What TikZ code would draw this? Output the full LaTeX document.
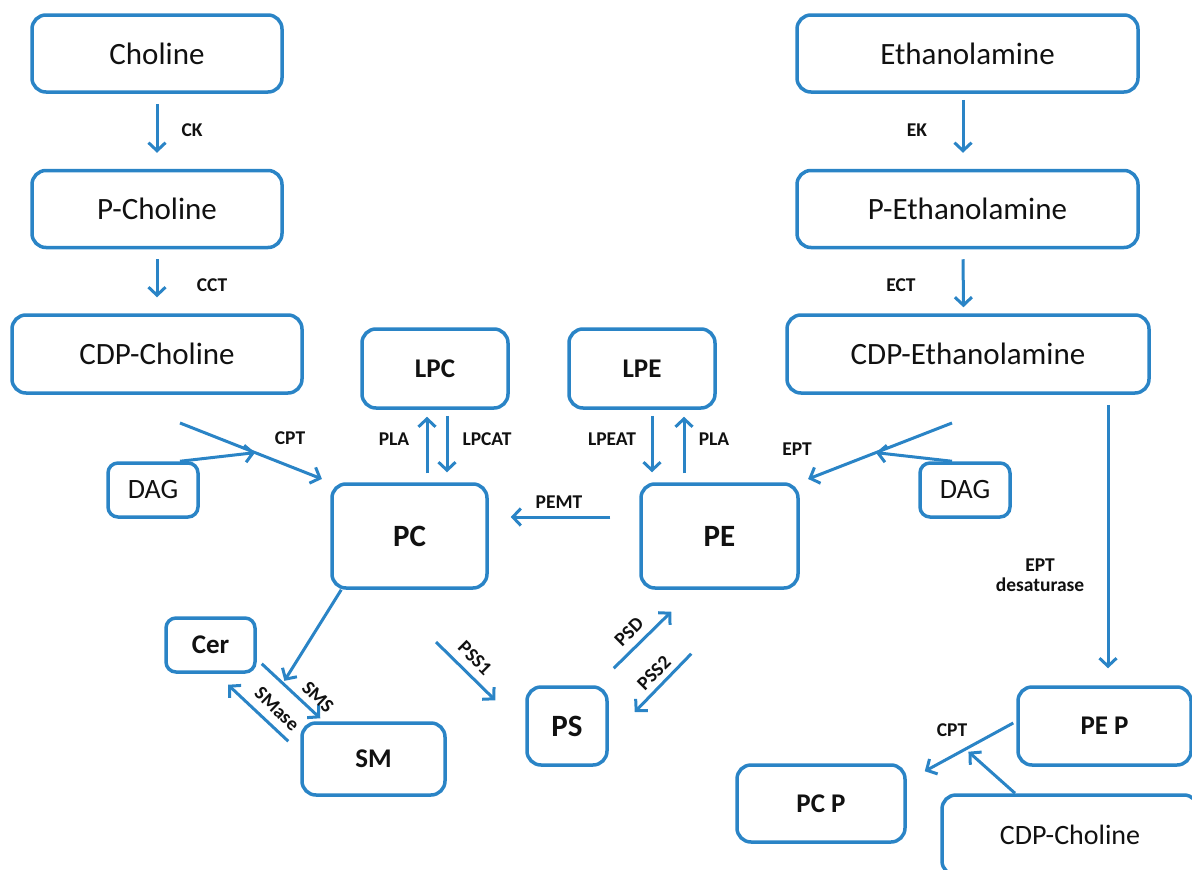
\documentclass[tikz,border=0pt]{standalone}
\usepackage{fontspec}
\setmainfont{Carlito}
\usepackage{xcolor}
\usepackage{tikz}
\usetikzlibrary{calc,arrows.meta}
\definecolor{PathBlue}{HTML}{2A84C6}
\definecolor{PathInk}{HTML}{111111}
\newcommand{\pxfont}[1]{\fontsize{#1}{#1}\selectfont}

\begin{document}
\begin{tikzpicture}[x=1pt, y=-1pt,
  metbox/.style={draw=PathBlue, line width=3.5pt, rounded corners=14pt, inner sep=0pt, text=PathInk, font=\pxfont{31}},
  lipbox/.style={metbox, font=\pxfont{27}\bfseries},
  enzlabel/.style={font=\pxfont{19.5}\bfseries, text=PathInk, align=center, inner sep=0.5pt},
  flow/.style={PathBlue, line width=3pt, -{Straight Barb[length=8pt,width=17pt]}}]
\clip (0,0) rectangle (1192,870);
% choline branch
\node[metbox, minimum width=250pt, minimum height=77pt] (chol) at (157,53.5) {Choline};
\node[metbox, minimum width=250pt, minimum height=77pt] (pchol) at (157,209) {P-Choline};
\node[metbox, minimum width=290pt, minimum height=78pt] (cdpchol) at (157,354) {CDP-Choline};
% ethanolamine branch
\node[metbox, minimum width=341pt, minimum height=77pt] (etn) at (967.5,53.5) {Ethanolamine};
\node[metbox, minimum width=341pt, minimum height=77pt] (petn) at (967.5,209) {P-Ethanolamine};
\node[metbox, minimum width=362pt, minimum height=78pt] (cdpetn) at (968,354) {CDP-Ethanolamine};
% lipids
\node[lipbox, minimum width=146pt, minimum height=79pt] (lpc) at (435,368.5) {LPC};
\node[lipbox, minimum width=146pt, minimum height=79pt] (lpe) at (642,368.5) {LPE};
\node[metbox, font=\pxfont{28}, rounded corners=10pt, minimum width=90pt, minimum height=54pt] (dagl) at (153,490) {DAG};
\node[metbox, font=\pxfont{28}, rounded corners=10pt, minimum width=90pt, minimum height=54pt] (dagr) at (965,490) {DAG};
\node[lipbox, font=\pxfont{31}\bfseries, minimum width=155pt, minimum height=104pt] (pc) at (409.5,536) {PC};
\node[lipbox, font=\pxfont{31}\bfseries, minimum width=157pt, minimum height=104pt] (pe) at (719.5,536) {PE};
\node[lipbox, rounded corners=10pt, minimum width=89pt, minimum height=54pt] (cer) at (210.5,645) {Cer};
\node[lipbox, minimum width=143pt, minimum height=72pt] (sm) at (373.5,759) {SM};
\node[lipbox, font=\pxfont{31}\bfseries, minimum width=80pt, minimum height=78pt] (ps) at (567,726) {PS};
\node[lipbox, minimum width=173pt, minimum height=78pt] (pep) at (1104.5,726) {PE P};
\node[lipbox, minimum width=168pt, minimum height=77pt] (pcp) at (821,803.5) {PC P};
\node[metbox, font=\pxfont{28}, minimum width=256pt, minimum height=80pt] (cdpchol2) at (1070,835) {CDP-Choline};

\draw[flow, shorten <=10pt, shorten >=16pt] (chol) -- (pchol);
\draw[flow, shorten <=10pt, shorten >=16pt] (pchol) -- (cdpchol);
\draw[flow, shorten <=6pt, shorten >=16pt] ([xshift=-4.5pt]etn.south) -- ([xshift=-4.5pt]petn.north);
\draw[flow, shorten <=10pt, shorten >=6pt] ([xshift=-4.5pt]petn.south) -- ([xshift=-4.5pt]cdpetn.north);
\node[enzlabel] at (192,130) {CK};
\node[enzlabel] at (212,285) {CCT};
\node[enzlabel] at (917,130) {EK};
\node[enzlabel] at (901,285) {ECT};

% CPT and EPT
\coordinate (cptin) at (180,423);
\coordinate (cptmid) at ($(cptin)!0.5!(pc.north west)$);
\draw[flow, shorten >=9pt] (cptin) -- (pc.north west);
\draw[flow] ([xshift=27pt]dagl.north) -- (cptmid);
\node[enzlabel] at (290,438) {CPT};
\coordinate (eptin) at (952,423);
\coordinate (eptmid) at ($(eptin)!0.5!(pe.north east)$);
\draw[flow, shorten >=9pt] (eptin) -- (pe.north east);
\draw[flow] ([xshift=-13pt]dagr.north) -- (eptmid);
\node[enzlabel] at (797,449) {EPT};

% lyso exchange
\draw[flow, shorten <=9pt, shorten >=7pt] ([xshift=-8pt]lpc.south |- pc.north) -- ([xshift=-8pt]lpc.south);
\draw[flow, shorten <=6pt, shorten >=10pt] ([xshift=12pt]lpc.south) -- ([xshift=12pt]lpc.south |- pc.north);
\draw[flow, shorten <=6pt, shorten >=10pt] ([xshift=10pt]lpe.south) -- ([xshift=10pt]lpe.south |- pe.north);
\draw[flow, shorten <=9pt, shorten >=7pt] ([xshift=42pt]lpe.south |- pe.north) -- ([xshift=42pt]lpe.south);
\node[enzlabel] at (394,439) {PLA};
\node[enzlabel] at (487,439) {LPCAT};
\node[enzlabel] at (612,439) {LPEAT};
\node[enzlabel] at (714,439) {PLA};
\draw[flow, shorten <=29pt, shorten >=22pt] ([yshift=19pt]pe.west) -- ([yshift=19pt]pe.west -| pc.east);
\node[enzlabel] at (559,502) {PEMT};

% sphingomyelin
\coordinate (smsA) at ([xshift=5pt,yshift=10pt]cer.south east);
\coordinate (smsB) at ([xshift=20pt,yshift=3pt]sm.north west);
\draw[flow] (smsA) -- (smsB);
\draw[flow, shorten >=3pt] ([xshift=11pt]pc.south west) -- ($(smsA)!0.36!(smsB)$);
\draw[flow] ([xshift=-12pt,yshift=-20pt]sm.north west) -- ([xshift=17.5pt,yshift=-11pt]cer.south);
\node[enzlabel, rotate=-44] at (318,697) {SMS};
\node[enzlabel, rotate=-44] at (277,709) {SMase};

% serine exchange
\coordinate (pssin) at (436,642);
\draw[flow] (pssin) -- ([xshift=-30pt,yshift=-15pt]ps.north west);
\draw[flow] ([xshift=5pt,yshift=17pt]ps.north east) -- ([xshift=32pt,yshift=-22pt]pe.south west);
\draw[flow] ([xshift=52pt,yshift=-64pt]pe.south west) -- ([xshift=26pt,yshift=14pt]ps.east);
\node[enzlabel, rotate=-45] at (475,658) {PSS1};
\node[enzlabel, rotate=45] at (629,632) {PSD};
\node[enzlabel, rotate=45] at (654,673) {PSS2};

% plasmalogens
\draw[flow, shorten <=10pt, shorten >=17pt] ([xshift=140pt]cdpetn.south) -- ([xshift=140pt]cdpetn.south |- pep.north);
\node[enzlabel] at (1040,575) {EPT\\desaturase};
\coordinate (cptpA) at ([xshift=-3pt,yshift=3pt]pep.west);
\coordinate (cptpB) at ([xshift=18pt,yshift=-8pt]pcp.north east);
\draw[flow] (cptpA) -- (cptpB);
\draw[flow, shorten >=4pt] ([xshift=-55pt]cdpchol2.north) -- ($(cptpA)!0.54!(cptpB)$);
\node[enzlabel] at (952,730) {CPT};
\end{tikzpicture}
\end{document}
